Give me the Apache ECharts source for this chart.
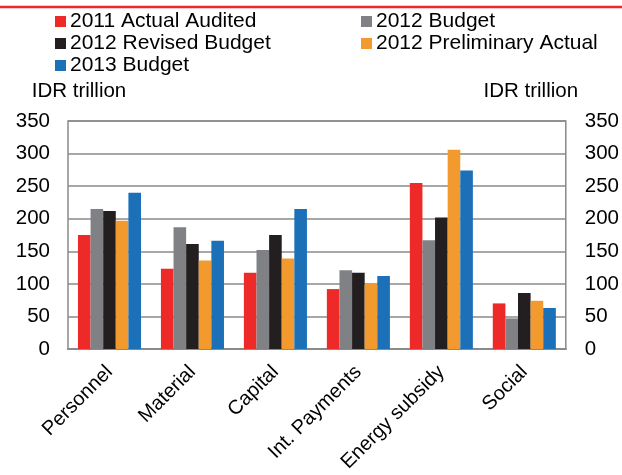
<!DOCTYPE html>
<html><head><meta charset="utf-8">
<script src="https://cdn.jsdelivr.net/npm/echarts@6/dist/echarts.min.js"></script>
<style>html,body{margin:0;padding:0;background:#fff}#c{width:622px;height:475px}</style>
</head><body><div id="c"></div>
<script>
var categories = ['Personnel', 'Material', 'Capital', 'Int. Payments', 'Energy subsidy', 'Social'];
var seriesNames = ['2011 Actual Audited', '2012 Budget', '2012 Revised Budget', '2012 Preliminary Actual', '2013 Budget'];
var actual2011 = [175, 123, 117, 92, 255, 70];
var budget2012 = [215, 187, 152, 121, 167, 47];
var revised2012 = [212, 161, 175, 117, 202, 86];
var prelim2012 = [197, 136, 139, 100, 306, 74];
var budget2013 = [240, 166, 215, 112, 274, 63];
var yTicks = [0, 50, 100, 150, 200, 250, 300, 350];
var colors = ['#EE2A28', '#808184', '#231F20', '#F39A2F', '#1B70B8'];
var values = [actual2011, budget2012, revised2012, prelim2012, budget2013];

var font = 'Liberation Sans, Arial, sans-serif';
var chart = echarts.init(document.getElementById('c'), null, {renderer: 'canvas'});
var yAxisCommon = {
  type: 'value', min: yTicks[0], max: yTicks[yTicks.length - 1], interval: 50,
  axisLine: {show: false}, axisTick: {show: false},
  nameGap: 19, nameLocation: 'end', name: 'IDR trillion'
};
var legendCommon = {top: 6, orient: 'vertical', itemWidth: 11, itemHeight: 11, itemGap: 1, icon: 'rect',
  textStyle: {fontSize: 21, fontFamily: font, color: '#000', padding: [0, 0, 0, -1]}};
chart.setOption({
  animation: false,
  color: colors,
  graphic: [{type: 'line', shape: {x1: 0, y1: 7, x2: 622, y2: 7}, style: {stroke: '#EE2A28', lineWidth: 2.5}}],
  legend: [
    Object.assign({left: 50, data: [seriesNames[0], seriesNames[2], seriesNames[4]]}, legendCommon),
    Object.assign({left: 356, data: [seriesNames[1], seriesNames[3]]}, legendCommon)
  ],
  grid: {left: 68, right: 55, top: 121, bottom: 126, show: true, borderColor: '#8a8a8a', borderWidth: 1.5},
  xAxis: {
    type: 'category', data: categories,
    axisLine: {lineStyle: {color: '#8a8a8a', width: 2}},
    axisTick: {inside: true, length: 5, lineStyle: {color: '#8a8a8a', width: 1.5}},
    axisLabel: {rotate: 45, color: '#000', fontSize: 20, fontFamily: font, margin: 20, interval: 0}
  },
  yAxis: [
    Object.assign({}, yAxisCommon, {position: 'left',
      axisLabel: {color: '#000', fontSize: 20.5, fontFamily: font, margin: 18},
      nameTextStyle: {color: '#000', fontSize: 20.5, fontFamily: font, align: 'center', padding: [0, 0, 0, 22]},
      splitLine: {lineStyle: {color: '#8a8a8a', width: 1.5}}}),
    Object.assign({}, yAxisCommon, {position: 'right',
      axisLabel: {color: '#000', fontSize: 20.5, fontFamily: font, margin: 19},
      nameTextStyle: {color: '#000', fontSize: 20.5, fontFamily: font, align: 'center', padding: [0, 70, 0, 0]},
      splitLine: {show: false}})
  ],
  series: values.map(function (v, i) {
    return {name: seriesNames[i], type: 'bar', data: v, barGap: '0%', barCategoryGap: '24%',
      itemStyle: {color: colors[i]}};
  })
});
</script></body></html>
